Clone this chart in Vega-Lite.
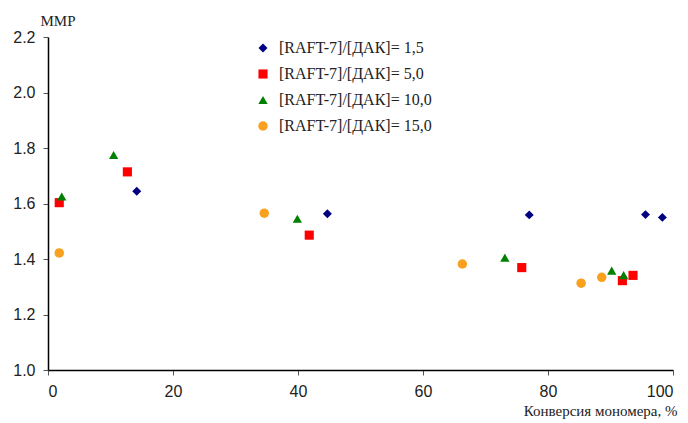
{
  "$schema": "https://vega.github.io/schema/vega-lite/v6.json",
  "width": 625,
  "height": 333,
  "autosize": {"type": "none"},
  "padding": {"left": 48, "top": 37, "right": 15, "bottom": 53},
  "background": "white",
  "config": {
    "view": {"stroke": null},
    "axis": {
      "grid": false,
      "domainColor": "black",
      "domainWidth": 1.5,
      "tickColor": "#555555",
      "tickSize": 5,
      "labelFont": "Liberation Sans",
      "labelFontSize": 16,
      "labelColor": "#222222",
      "titleFont": "Liberation Serif",
      "titleFontSize": 15,
      "titleFontWeight": "normal",
      "titleColor": "#222222"
    }
  },
  "data": {
    "values": [
      {"series": "[RAFT-7]/[ДАК]= 1,5", "x": 14.2, "y": 1.644},
      {"series": "[RAFT-7]/[ДАК]= 1,5", "x": 44.7, "y": 1.563},
      {"series": "[RAFT-7]/[ДАК]= 1,5", "x": 77.0, "y": 1.559},
      {"series": "[RAFT-7]/[ДАК]= 1,5", "x": 95.6, "y": 1.560},
      {"series": "[RAFT-7]/[ДАК]= 1,5", "x": 98.3, "y": 1.550},
      {"series": "[RAFT-7]/[ДАК]= 5,0", "x": 1.8, "y": 1.603},
      {"series": "[RAFT-7]/[ДАК]= 5,0", "x": 12.7, "y": 1.714},
      {"series": "[RAFT-7]/[ДАК]= 5,0", "x": 41.8, "y": 1.486},
      {"series": "[RAFT-7]/[ДАК]= 5,0", "x": 75.8, "y": 1.369},
      {"series": "[RAFT-7]/[ДАК]= 5,0", "x": 91.9, "y": 1.322},
      {"series": "[RAFT-7]/[ДАК]= 5,0", "x": 93.6, "y": 1.341},
      {"series": "[RAFT-7]/[ДАК]= 10,0", "x": 2.2, "y": 1.625},
      {"series": "[RAFT-7]/[ДАК]= 10,0", "x": 10.5, "y": 1.775},
      {"series": "[RAFT-7]/[ДАК]= 10,0", "x": 39.9, "y": 1.545},
      {"series": "[RAFT-7]/[ДАК]= 10,0", "x": 73.1, "y": 1.405},
      {"series": "[RAFT-7]/[ДАК]= 10,0", "x": 90.2, "y": 1.358},
      {"series": "[RAFT-7]/[ДАК]= 10,0", "x": 92.1, "y": 1.342},
      {"series": "[RAFT-7]/[ДАК]= 15,0", "x": 1.8, "y": 1.422},
      {"series": "[RAFT-7]/[ДАК]= 15,0", "x": 34.6, "y": 1.565},
      {"series": "[RAFT-7]/[ДАК]= 15,0", "x": 66.3, "y": 1.382},
      {"series": "[RAFT-7]/[ДАК]= 15,0", "x": 85.3, "y": 1.313},
      {"series": "[RAFT-7]/[ДАК]= 15,0", "x": 88.6, "y": 1.334}
    ]
  },
  "mark": {"type": "point", "filled": true, "opacity": 1},
  "encoding": {
    "x": {
      "field": "x", "type": "quantitative",
      "scale": {"domain": [0, 100], "nice": false, "zero": false},
      "axis": {
        "values": [0, 20, 40, 60, 80, 100],
        "labelPadding": 8,
        "title": "Конверсия мономера, %",
        "titleAlign": "right",
        "titleAnchor": null,
        "titleBaseline": "alphabetic",
        "titleX": 629,
        "titleY": 45
      }
    },
    "y": {
      "field": "y", "type": "quantitative",
      "scale": {"domain": [1.0, 2.2], "nice": false, "zero": false},
      "axis": {
        "values": [1.0, 1.2, 1.4, 1.6, 1.8, 2.0, 2.2],
        "format": ".1f",
        "labelPadding": 8,
        "title": "MMP",
        "titleAngle": 0,
        "titleAlign": "left",
        "titleAnchor": null,
        "titleBaseline": "alphabetic",
        "titleX": -8,
        "titleY": -12
      }
    },
    "color": {
      "field": "series", "type": "nominal",
      "scale": {
        "domain": ["[RAFT-7]/[ДАК]= 1,5", "[RAFT-7]/[ДАК]= 5,0", "[RAFT-7]/[ДАК]= 10,0", "[RAFT-7]/[ДАК]= 15,0"],
        "range": ["#000080", "#FF0000", "#008000", "#F9A01E"]
      },
      "legend": {
        "title": null,
        "orient": "none",
        "legendX": 207,
        "legendY": 3,
        "padding": 0,
        "labelFont": "Liberation Serif",
        "labelFontSize": 16,
        "labelColor": "#222222",
        "labelOffset": 8,
        "rowPadding": 10
      }
    },
    "shape": {
      "field": "series", "type": "nominal",
      "scale": {
        "domain": ["[RAFT-7]/[ДАК]= 1,5", "[RAFT-7]/[ДАК]= 5,0", "[RAFT-7]/[ДАК]= 10,0", "[RAFT-7]/[ДАК]= 15,0"],
        "range": ["diamond", "square", "triangle-up", "circle"]
      }
    },
    "size": {
      "field": "series", "type": "nominal",
      "scale": {
        "domain": ["[RAFT-7]/[ДАК]= 1,5", "[RAFT-7]/[ДАК]= 5,0", "[RAFT-7]/[ДАК]= 10,0", "[RAFT-7]/[ДАК]= 15,0"],
        "range": [80, 90, 115, 85]
      }
    }
  }
}
